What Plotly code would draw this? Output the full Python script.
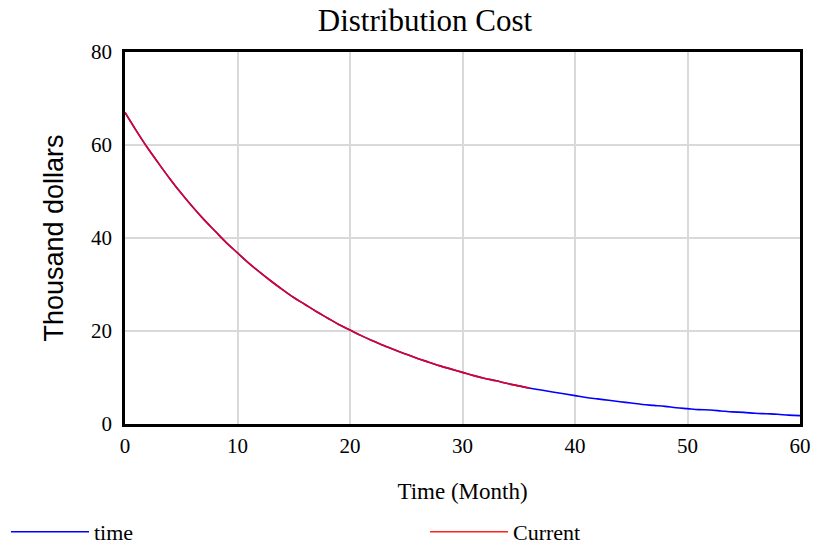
import plotly.graph_objects as go

# Data
months_time = list(range(0, 61))
time_values = [67.0, 63.1, 59.4, 56.0, 52.7, 49.6, 46.7, 44.0, 41.5, 39.0,
               36.8, 34.6, 32.6, 30.7, 28.9, 27.2, 25.7, 24.2, 22.8, 21.4,
               20.2, 19.0, 17.9, 16.9, 15.9, 15.0, 14.1, 13.3, 12.5, 11.8,
               11.1, 10.4, 9.8, 9.3, 8.7, 8.2, 7.7, 7.3, 6.9, 6.5,
               6.1, 5.7, 5.4, 5.1, 4.8, 4.5, 4.2, 4.0, 3.8, 3.5,
               3.3, 3.1, 3.0, 2.8, 2.6, 2.5, 2.3, 2.2, 2.1, 1.9, 1.8]
months_current = list(range(0, 37))
current_values = time_values[:37]

x_ticks = [0, 10, 20, 30, 40, 50, 60]
y_ticks = [0, 20, 40, 60, 80]

serif = "Liberation Serif, Times New Roman, serif"
sans = "Liberation Sans, Arial, sans-serif"

fig = go.Figure()
fig.add_trace(go.Scatter(x=months_time, y=time_values, mode="lines", name="time",
                         legend="legend",
                         line=dict(color="#0000FF", width=1.6, shape="spline")))
fig.add_trace(go.Scatter(x=months_current, y=current_values, mode="lines", name="Current",
                         legend="legend2",
                         line=dict(color="rgba(255,0,0,0.88)", width=1.6, shape="spline")))

legend_common = dict(orientation="h", xref="container", yref="container",
                     xanchor="left", y=1 - 532/547, yanchor="middle",
                     font=dict(family=serif, size=22, color="black"),
                     itemwidth=78, bgcolor="rgba(0,0,0,0)")

fig.update_layout(
    width=817, height=547,
    paper_bgcolor="white", plot_bgcolor="white",
    margin=dict(l=125, r=17, t=52, b=123),
    title=dict(text="Distribution Cost", x=425/817, xanchor="center",
               y=1 - 20/547, yanchor="middle", yref="container",
               font=dict(family=serif, size=31, color="black")),
    showlegend=True,
    legend=dict(x=6/817, **legend_common),
    legend2=dict(x=425/817, **legend_common),
)
fig.update_xaxes(
    range=[0, 60], tickvals=x_ticks, ticktext=[str(v) for v in x_ticks],
    showgrid=True, gridcolor="#d9d9d9", gridwidth=1.5,
    showline=True, linecolor="black", linewidth=2.5, mirror=True,
    zeroline=False, ticks="", ticklabelstandoff=1, automargin=False,
    tickfont=dict(family=serif, size=21, color="black"),
    title=dict(text="Time (Month)", font=dict(family=serif, size=23, color="black"), standoff=26),
)
fig.update_yaxes(
    range=[0, 80], tickvals=y_ticks, ticktext=[str(v) for v in y_ticks],
    showgrid=True, gridcolor="#d9d9d9", gridwidth=1.5,
    showline=True, linecolor="black", linewidth=2.5, mirror=True,
    zeroline=False, ticks="", ticklabelstandoff=6, automargin=False,
    tickfont=dict(family=serif, size=21, color="black"),
    title=dict(text="Thousand dollars", font=dict(family=sans, size=27, color="black"), standoff=20),
)

fig.write_html("out.html", config={"displayModeBar": False},
               post_script="document.body.style.margin='0';")
